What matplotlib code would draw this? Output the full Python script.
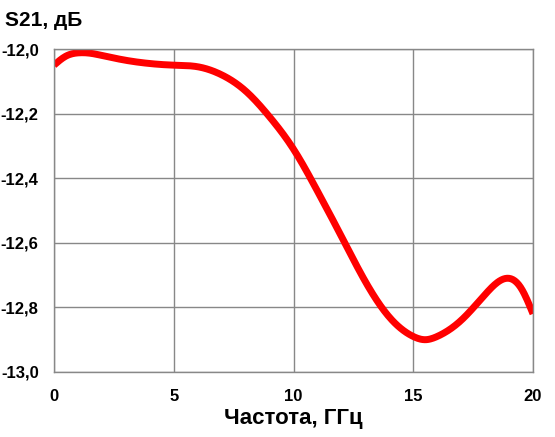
import numpy as np
import matplotlib
matplotlib.use("Agg")
import matplotlib.pyplot as plt
from matplotlib.ticker import FuncFormatter

plt.rcParams['font.family'] = ['Liberation Sans', 'DejaVu Sans']
plt.rcParams['font.weight'] = 'bold'

# данные
freq = [0, 0.5, 1, 1.5, 2, 3, 4, 5, 6, 7, 8, 9, 10, 11, 12, 13, 14, 15, 15.5, 16, 17, 18, 19, 19.5, 20]
s21 = [-12.05, -12.022, -12.012, -12.013, -12.02, -12.035, -12.045, -12.05, -12.055, -12.08, -12.13,
       -12.21, -12.31, -12.44, -12.58, -12.72, -12.83, -12.89, -12.90, -12.89, -12.84, -12.76,
       -12.71, -12.74, -12.82]


def spline(x, y, xs):
    # натуральный кубический сплайн
    x = np.asarray(x, float)
    y = np.asarray(y, float)
    n = len(x)
    h = np.diff(x)
    A = np.zeros((n, n))
    b = np.zeros(n)
    A[0, 0] = A[-1, -1] = 1
    for i in range(1, n - 1):
        A[i, i - 1] = h[i - 1]
        A[i, i] = 2 * (h[i - 1] + h[i])
        A[i, i + 1] = h[i]
        b[i] = 3 * ((y[i + 1] - y[i]) / h[i] - (y[i] - y[i - 1]) / h[i - 1])
    c = np.linalg.solve(A, b)
    idx = np.clip(np.searchsorted(x, xs) - 1, 0, n - 2)
    dx = xs - x[idx]
    hi = h[idx]
    bb = (y[idx + 1] - y[idx]) / hi - hi * (2 * c[idx] + c[idx + 1]) / 3
    d = (c[idx + 1] - c[idx]) / (3 * hi)
    return y[idx] + bb * dx + c[idx] * dx ** 2 + d * dx ** 3


xs = np.linspace(0, 20, 500)
ys = spline(freq, s21, xs)

fig = plt.figure(figsize=(5.55, 4.37), dpi=100)
ax = fig.add_axes([54/555, 1 - 372/437, 479/555, 323/437])
ax.plot(xs, ys, color='#ff0000', lw=5, solid_capstyle='butt')

ax.set_xlim(0, 20)
ax.set_ylim(-13.0, -12.0)
ax.set_xticks([0, 5, 10, 15, 20])
ax.set_yticks(np.arange(-13.0, -11.99, 0.2))
ax.yaxis.set_major_formatter(FuncFormatter(lambda v, p: f"{v:.1f}".replace('.', ',')))
ax.tick_params(length=0, labelsize=12, pad=11)
ax.tick_params(axis='x', pad=12)
ax.grid(True, color='#888888', lw=1)
for s in ax.spines.values():
    s.set_color('#888888')
    s.set_linewidth(1)

ax.set_xlabel("Частота, ГГц", fontsize=16, fontweight='bold', labelpad=3)
fig.text(5 / 555, 1 - 21 / 437, "S21, дБ", fontsize=15, fontweight='bold', va='center', ha='left')

fig.savefig("out.png", dpi=100)
